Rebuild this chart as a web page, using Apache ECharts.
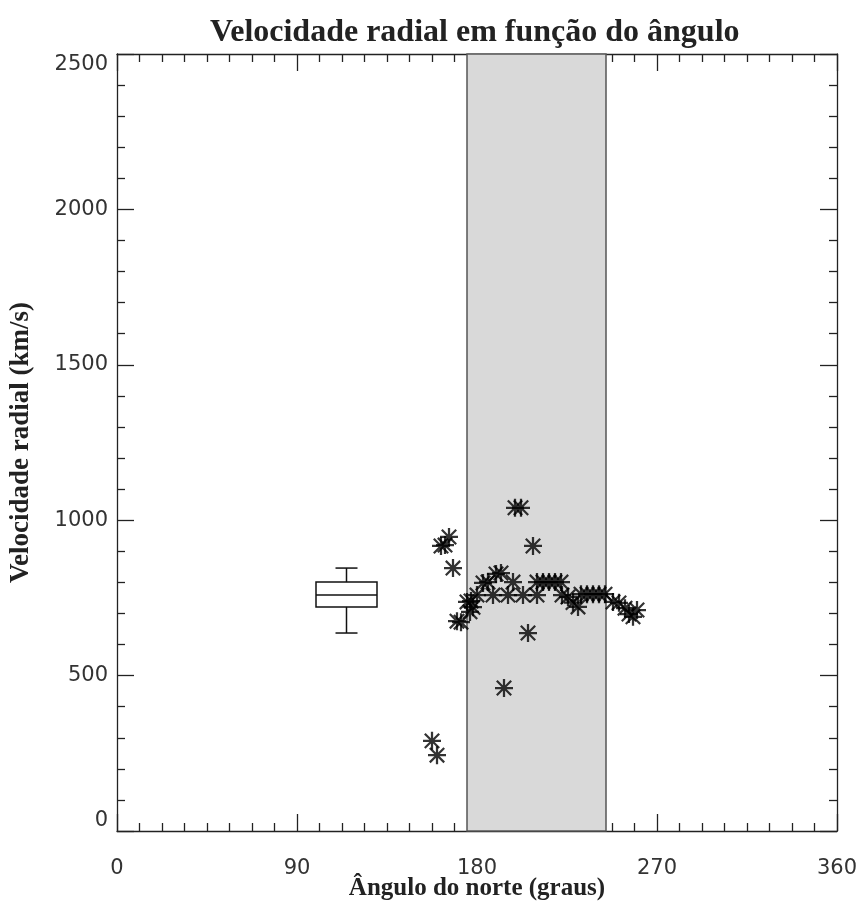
<!DOCTYPE html>
<html>
<head>
<meta charset="utf-8">
<title>Velocidade radial em função do ângulo</title>
<script src="https://cdn.jsdelivr.net/npm/echarts@6/dist/echarts.min.js"></script>
<style>
  html, body { margin: 0; padding: 0; background: #fff; }
  #chart { width: 861px; height: 905px; }
</style>
</head>
<body>
<div id="chart"></div>
<script>
// angle from north (deg) and radial velocity (km/s) of each measurement
const angles = [
  157.5, 160, 162, 164, 166, 168,
  170, 172, 175, 176.5, 177, 178,
  180, 183, 185.5, 188, 189.5, 192, 195.5, 198, 199, 202, 203, 193.5, 205.5, 208,
  210, 210, 213, 216, 219, 222, 222.5, 225.5, 228, 230.5,
  232, 235, 238, 241, 244,
  248, 251, 254, 256, 258, 260
];
const velocities = [
  290, 244, 917, 920, 946, 846,
  675, 672, 737, 705, 740, 720,
  759, 798, 801, 759, 827, 830, 759, 801, 1040, 1040, 759, 460, 637, 917,
  759, 801, 801, 801, 801, 801, 759, 753, 735, 721,
  762, 762, 762, 762, 762,
  737, 734, 717, 698, 689, 711
];

// [angle, min, q1, median, q3, max]
const boxStats = [[114.75, 637, 721, 759, 801, 846]];

// shaded sector of angles
const bandRange = [175, 244.5];

const xTicks = { min: 0, max: 360, interval: 90 };
const yTicks = { min: 0, max: 2500, interval: 500 };

const BOX_HALF = 15.25;  // degrees
const CAP_HALF = 5.5;    // degrees

// 8-armed asterisk with a dark centre
const STAR = 'path://M0 7L16 7L16 9L0 9Z' +
  'M7 0L9 0L9 16L7 16Z' +
  'M0.9 2.3L2.3 0.9L15.1 13.7L13.7 15.1Z' +
  'M13.7 0.9L15.1 2.3L2.3 15.1L0.9 13.7Z' +
  'M4.6 8L8 4.6L11.4 8L8 11.4Z';

const chart = echarts.init(document.getElementById('chart'), null, { renderer: 'canvas' });

const labelFont = { color: '#333', fontFamily: 'DejaVu Sans', fontSize: 21 };
const nameFont = { color: '#222', fontFamily: 'Liberation Serif', fontWeight: 'bold' };
const tickStyle = { color: '#222', width: 1.3 };
const plain = v => String(v);

function xAxisDef(pos, labels) {
  return {
    type: 'value', position: pos, ...xTicks,
    axisLine: { show: true, onZero: false, lineStyle: { color: '#222', width: 1.3 } },
    axisTick: { show: true, inside: true, length: 17, lineStyle: tickStyle },
    minorTick: { show: true, splitNumber: 8, length: 8, lineStyle: tickStyle },
    axisLabel: labels ? { ...labelFont, margin: 27, formatter: plain } : { show: false },
    splitLine: { show: false },
    name: labels ? 'Ângulo do norte (graus)' : '',
    nameLocation: 'middle', nameGap: 45, nameMoveOverlap: false,
    nameTextStyle: { ...nameFont, fontSize: 25 },
  };
}

function yAxisDef(pos, labels) {
  return {
    type: 'value', position: pos, ...yTicks,
    axisLine: { show: true, onZero: false, lineStyle: { color: '#222', width: 1.3 } },
    axisTick: { show: true, inside: true, length: 17, lineStyle: tickStyle },
    minorTick: { show: true, splitNumber: 5, length: 8, lineStyle: tickStyle },
    axisLabel: labels ? {
      ...labelFont, margin: 9, formatter: plain,
      verticalAlignMinLabel: 'bottom', verticalAlignMaxLabel: 'top',
    } : { show: false },
    splitLine: { show: false },
    name: labels ? 'Velocidade radial (km/s)' : '',
    nameLocation: 'middle', nameGap: 82, nameRotate: 90, nameMoveOverlap: false,
    nameTextStyle: { ...nameFont, fontSize: 27 },
  };
}

chart.setOption({
  animation: false,
  title: {
    text: 'Velocidade radial em função do ângulo',
    left: 205, top: 12,
    textStyle: { color: '#222', fontFamily: 'Liberation Serif', fontWeight: 'bold', fontSize: 32 },
  },
  grid: { left: 117, right: 24, top: 54, bottom: 74, outerBoundsMode: 'none', containLabel: false },
  xAxis: [xAxisDef('bottom', true), xAxisDef('top', false)],
  yAxis: [yAxisDef('left', true), yAxisDef('right', false)],
  series: [
    {
      name: 'band',
      type: 'line',
      data: [],
      z: 1,
      markArea: {
        silent: true,
        itemStyle: { color: '#d9d9d9', borderColor: '#555', borderWidth: 1.5 },
        data: [[{ xAxis: bandRange[0], yAxis: yTicks.min }, { xAxis: bandRange[1], yAxis: yTicks.max }]],
      },
    },
    {
      name: 'box',
      type: 'custom',
      z: 3,
      data: boxStats,
      renderItem: (params, api) => {
        const x = api.value(0);
        const pLow = api.coord([x, api.value(1)]);
        const pQ1 = api.coord([x, api.value(2)]);
        const pMed = api.coord([x, api.value(3)]);
        const pQ3 = api.coord([x, api.value(4)]);
        const pHigh = api.coord([x, api.value(5)]);
        const hw = api.size([BOX_HALF, 0])[0];
        const cw = api.size([CAP_HALF, 0])[0];
        const st = { stroke: '#111', lineWidth: 1.5, fill: null };
        const line = (x1, y1, x2, y2) => ({ type: 'line', shape: { x1, y1, x2, y2 }, style: st });
        return {
          type: 'group',
          children: [
            { type: 'rect', shape: { x: pQ3[0] - hw, y: pQ3[1], width: hw * 2, height: pQ1[1] - pQ3[1] }, style: st },
            line(pMed[0] - hw, pMed[1], pMed[0] + hw, pMed[1]),
            line(pQ3[0], pQ3[1], pHigh[0], pHigh[1]),
            line(pQ1[0], pQ1[1], pLow[0], pLow[1]),
            line(pHigh[0] - cw, pHigh[1], pHigh[0] + cw, pHigh[1]),
            line(pLow[0] - cw, pLow[1], pLow[0] + cw, pLow[1]),
          ],
        };
      },
    },
    {
      name: 'velocidade',
      type: 'scatter',
      z: 4,
      symbol: STAR,
      symbolSize: 18,
      itemStyle: { color: '#000' },
      data: angles.map((a, i) => [a, velocities[i]]),
    },
  ],
});
</script>
</body>
</html>
